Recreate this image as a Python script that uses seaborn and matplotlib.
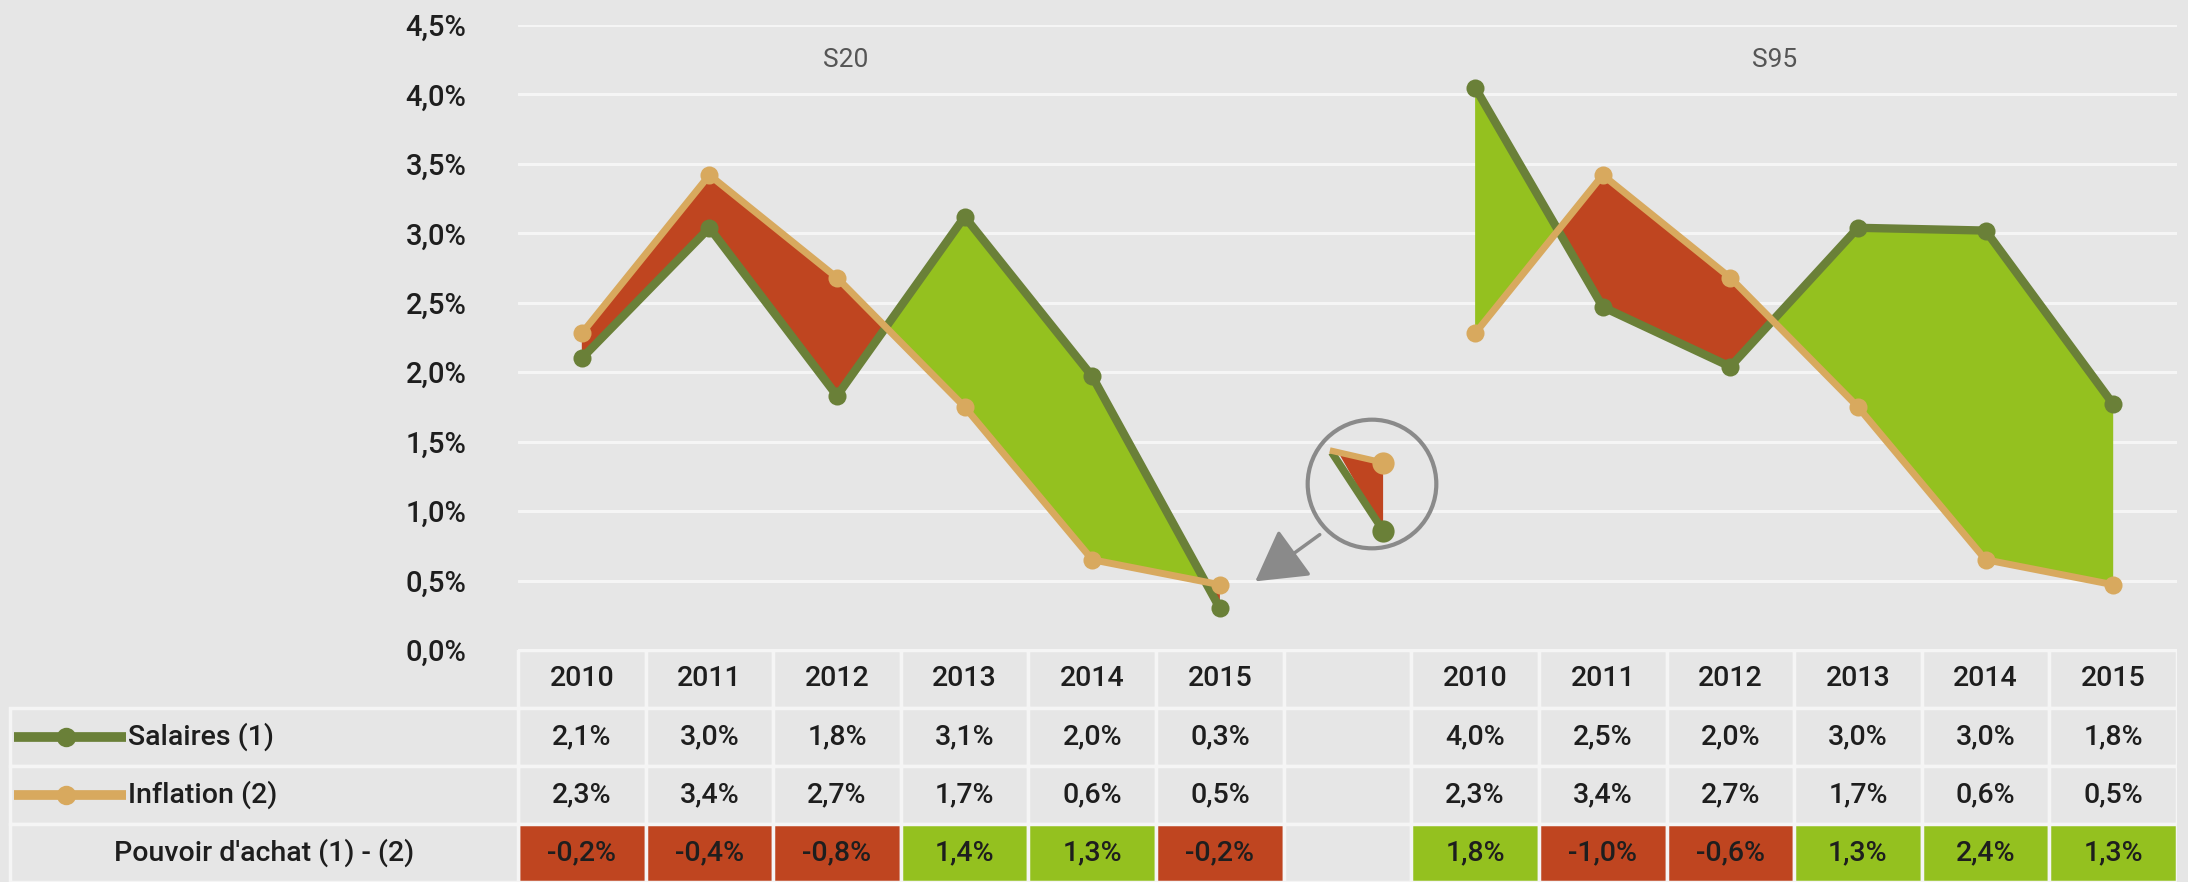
import matplotlib.pyplot as plt
import matplotlib.patches as mpatches
import numpy as np
import pandas as pd
import seaborn as sns

## donnees
years = ['2010', '2011', '2012', '2013', '2014', '2015']
panels = ['S20', 'S95']
pos_s20 = [0, 1, 2, 3, 4, 5]
pos_s95 = [7, 8, 9, 10, 11, 12]

# valeurs
sal_s20 = [2.10, 3.04, 1.83, 3.12, 1.97, 0.30]
inf_s20 = [2.28, 3.42, 2.68, 1.75, 0.65, 0.47]
sal_s95 = [4.05, 2.47, 2.04, 3.04, 3.02, 1.77]
inf_s95 = [2.28, 3.42, 2.68, 1.75, 0.65, 0.47]

# valeurs du tableau
tab_sal_s20 = [2.1, 3.0, 1.8, 3.1, 2.0, 0.3]
tab_inf_s20 = [2.3, 3.4, 2.7, 1.7, 0.6, 0.5]
tab_pa_s20 = [-0.2, -0.4, -0.8, 1.4, 1.3, -0.2]
tab_sal_s95 = [4.0, 2.5, 2.0, 3.0, 3.0, 1.8]
tab_inf_s95 = [2.3, 3.4, 2.7, 1.7, 0.6, 0.5]
tab_pa_s95 = [1.8, -1.0, -0.6, 1.3, 2.4, 1.3]

row_labels = ['Salaires (1)', 'Inflation (2)', "Pouvoir d'achat (1) - (2)"]

BG = '#e6e6e6'
GREEN_LINE = '#6a8038'
GREEN_FILL = '#94c11f'
RED_FILL = '#bf4520'
TAN = '#d8a95e'
GRID = '#f5f5f5'
TXT = '#1e1e1e'
FS = 20.5
FW = 'medium'

sns.set_theme(style='darkgrid', rc={'axes.facecolor': BG, 'figure.facecolor': BG,
                                    'grid.color': GRID, 'grid.linewidth': 2.2})
plt.rcParams['font.family'] = ['Roboto', 'DejaVu Sans']

def fmt(v):
    return ('%.1f%%' % v).replace('.', ',')

rows = []
for panel, pos, sal, inf in [('S20', pos_s20, sal_s20, inf_s20), ('S95', pos_s95, sal_s95, inf_s95)]:
    for i in range(len(years)):
        rows.append(dict(panel=panel, pos=pos[i], serie='Salaires (1)', value=sal[i]))
        rows.append(dict(panel=panel, pos=pos[i], serie='Inflation (2)', value=inf[i]))
df = pd.DataFrame(rows)

W, H = 2188, 882
SLOT = (2177 - 518) / 13
fig = plt.figure(figsize=(W / 100, H / 100), dpi=100)

## graphique principal
ax = fig.add_axes([518 / W, (H - 650) / H, (2177 - 518) / W, (650 - 25) / H])
for panel in panels:
    sub = df[df.panel == panel]
    s = sub[sub.serie == 'Salaires (1)'].sort_values('pos')
    f = sub[sub.serie == 'Inflation (2)'].sort_values('pos')
    x = s.pos.values.astype(float)
    ys = s.value.values
    yf = f.value.values
    ax.fill_between(x, ys, yf, where=ys >= yf, interpolate=True, color=GREEN_FILL, lw=0, zorder=2)
    ax.fill_between(x, ys, yf, where=ys <= yf, interpolate=True, color=RED_FILL, lw=0, zorder=2)
    sns.lineplot(data=s, x='pos', y='value', color=GREEN_LINE, marker='o', markersize=13,
                 markeredgewidth=0, linewidth=6, estimator=None, sort=False, ax=ax, zorder=3)
    sns.lineplot(data=f, x='pos', y='value', color=TAN, marker='o', markersize=13,
                 markeredgewidth=0, linewidth=5, estimator=None, sort=False, ax=ax, zorder=4)

ax.set_xlim(-0.5, 12.5)
ax.set_ylim(0, 4.5)
yt = np.arange(0, 4.51, 0.5)
ax.set_yticks(yt)
ax.set_yticklabels([fmt(v) for v in yt], fontsize=FS + 0.5, color=TXT, fontweight=FW)
ax.tick_params(axis='y', length=0, pad=37)
ax.set_xticks([])
ax.grid(axis='x', visible=False)
ax.set_xlabel('')
ax.set_ylabel('')
for sp in ax.spines.values():
    sp.set_visible(False)

ax.text(2.07, 4.25, 'S20', ha='center', va='center', fontsize=19, color='#555555')
ax.text(9.35, 4.25, 'S95', ha='center', va='center', fontsize=19, color='#555555')

## loupe sur 2014-2015 (S20)
d4 = sal_s20[4] - inf_s20[4]
d5 = sal_s20[5] - inf_s20[5]
t = d4 / (d4 - d5)
xc = 4 + t
yc = sal_s20[4] + t * (sal_s20[5] - sal_s20[4])

cx, cy, r = 1372, 484, 67
axi = fig.add_axes([(cx - r) / W, (H - cy - r) / H, 2 * r / W, 2 * r / H])
axi.set_facecolor('none')
axi.axis('off')
axi.fill([xc, 5, 5], [yc, inf_s20[5], sal_s20[5]], color=RED_FILL, lw=0, zorder=2)
axi.plot([xc - 0.02, 5], [yc + 0.005, sal_s20[5]], color=GREEN_LINE, lw=5.5, solid_capstyle='butt', zorder=3)
axi.plot([xc - 0.025, 5], [yc + 0.01, inf_s20[5]], color=TAN, lw=4.5, solid_capstyle='butt', zorder=4)
axi.plot([5], [sal_s20[5]], 'o', color=GREEN_LINE, ms=16, mew=0, zorder=5)
axi.plot([5], [inf_s20[5]], 'o', color=TAN, ms=16, mew=0, zorder=5)
axi.set_xlim(4.796, 5.146)
axi.set_ylim(0.249, 0.584)
axi.add_patch(mpatches.Circle((0.5, 0.5), 0.48, transform=axi.transAxes, fill=False,
                              ec='#8a8a8a', lw=3, zorder=6))
fig.patches.append(mpatches.FancyArrowPatch((1322 / W, (H - 533) / H), (1253 / W, (H - 583) / H),
                                            transform=fig.transFigure, color='#8a8a8a', lw=2.5,
                                            arrowstyle='-|>,head_length=0.7,head_width=0.4',
                                            mutation_scale=45))

## tableau
axt = fig.add_axes([0, 0, 2177 / W, 232 / H])
x0 = -0.5 - 518 / SLOT
axt.set_xlim(x0, 12.5)
axt.set_ylim(4, 0)
axt.axis('off')
xl = x0 + 10 / SLOT

for rr in range(4):
    for slot in range(13):
        fc = BG
        if rr == 3 and slot in pos_s20:
            fc = GREEN_FILL if tab_pa_s20[pos_s20.index(slot)] > 0 else RED_FILL
        if rr == 3 and slot in pos_s95:
            fc = GREEN_FILL if tab_pa_s95[pos_s95.index(slot)] > 0 else RED_FILL
        axt.add_patch(mpatches.Rectangle((slot - 0.5, rr), 1, 1, fc=fc, ec=GRID, lw=2.5))
    if rr > 0:
        axt.add_patch(mpatches.Rectangle((xl, rr), -0.5 - xl, 1, fc=BG, ec=GRID, lw=2.5))

for pos, sal, inf, pa in [(pos_s20, tab_sal_s20, tab_inf_s20, tab_pa_s20),
                          (pos_s95, tab_sal_s95, tab_inf_s95, tab_pa_s95)]:
    for i in range(len(years)):
        axt.text(pos[i], 0.5, years[i], ha='center', va='center', fontsize=FS, color=TXT, fontweight=FW)
        axt.text(pos[i], 1.5, fmt(sal[i]), ha='center', va='center', fontsize=FS, color=TXT, fontweight=FW)
        axt.text(pos[i], 2.5, fmt(inf[i]), ha='center', va='center', fontsize=FS, color=TXT, fontweight=FW)
        axt.text(pos[i], 3.5, fmt(pa[i]), ha='center', va='center', fontsize=FS, color=TXT, fontweight=FW)

# legendes dans les libelles
for rr, col in [(1, GREEN_LINE), (2, TAN)]:
    axt.plot([x0 + 14 / SLOT, x0 + 126 / SLOT], [rr + 0.5, rr + 0.5], color=col, lw=7,
             solid_capstyle='butt')
    axt.plot([x0 + 66 / SLOT], [rr + 0.5], 'o', color=col, ms=14, mew=0)
    axt.text(x0 + 128 / SLOT, rr + 0.5, row_labels[rr - 1], ha='left', va='center',
             fontsize=FS, color=TXT, fontweight=FW)
axt.text((xl - 0.5) / 2, 3.5, row_labels[2], ha='center', va='center', fontsize=FS,
         color=TXT, fontweight=FW)

fig.savefig('out.png', dpi=100, facecolor=BG)
